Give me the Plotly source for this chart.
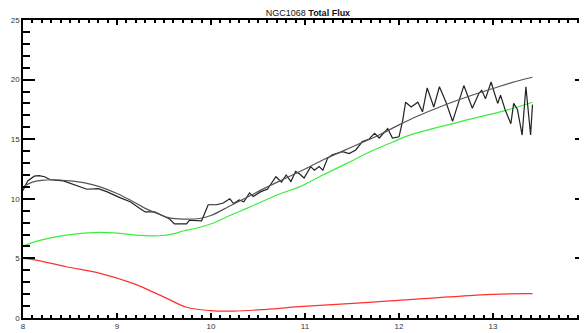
import plotly.graph_objects as go

# Observed (noisy) total flux
obs_x = [8.00, 8.05, 8.12, 8.17, 8.23, 8.29, 8.43, 8.55, 8.68, 8.80, 8.89, 9.03, 9.14, 9.24,
         9.30, 9.40, 9.48, 9.56, 9.61, 9.74, 9.77, 9.90, 9.97, 10.06, 10.13, 10.20, 10.24,
         10.30, 10.35, 10.41, 10.45, 10.53, 10.60, 10.69, 10.75, 10.80, 10.85, 10.90, 10.94,
         10.99, 11.06, 11.10, 11.15, 11.19, 11.24, 11.29, 11.40, 11.47, 11.54, 11.61, 11.68,
         11.74, 11.79, 11.88, 11.93, 12.00, 12.04, 12.07, 12.13, 12.20, 12.25, 12.30, 12.37,
         12.43, 12.50, 12.57, 12.69, 12.78, 12.85, 12.88, 12.92, 12.98, 13.01, 13.05, 13.08,
         13.13, 13.19, 13.22, 13.26, 13.31, 13.35, 13.40, 13.42]
obs_y = [10.7, 11.5, 11.9, 11.95, 11.85, 11.6, 11.5, 11.15, 10.8, 10.85, 10.6, 10.1, 9.75, 9.2,
         8.9, 8.9, 8.6, 8.3, 7.9, 7.9, 8.2, 8.15, 9.5, 9.5, 9.65, 10.0, 9.6,
         9.9, 9.75, 10.5, 10.2, 10.6, 10.8, 11.85, 11.4, 12.0, 11.45, 12.3, 12.1,
         11.75, 12.7, 12.4, 12.7, 12.4, 13.4, 13.7, 13.95, 13.8, 14.1, 14.8, 15.0,
         15.5, 15.1, 15.9, 15.1, 15.2, 16.6, 18.1, 17.7, 18.1, 17.3, 19.3, 17.7,
         19.4, 18.1, 16.5, 19.5, 17.6, 18.85, 19.1, 18.4, 19.8, 19.0, 18.0, 18.7,
         17.45, 16.3, 18.0, 17.5, 15.35, 19.4, 15.35, 17.9]

# Smooth model (total)
fit_x = [8.0, 8.1, 8.2, 8.32, 8.5, 8.68, 8.82, 9.0, 9.14, 9.3, 9.45, 9.56, 9.7, 9.88, 10.0,
         10.2, 10.4, 10.6, 10.8, 11.0, 11.2, 11.4, 11.6, 11.8, 12.0, 12.2, 12.4, 12.6, 12.8,
         13.0, 13.2, 13.42]
fit_y = [11.0, 11.4, 11.55, 11.6, 11.5, 11.3, 11.0, 10.45, 9.9, 9.2, 8.7, 8.4, 8.3, 8.35, 8.6,
         9.4, 10.2, 11.0, 11.75, 12.5, 13.3, 14.0, 14.7, 15.4, 16.2, 16.95, 17.6, 18.2, 18.75,
         19.25, 19.75, 20.2]

# Green component
green_x = [8.0, 8.2, 8.46, 8.82, 9.0, 9.17, 9.45, 9.6, 9.7, 9.85, 10.02, 10.2, 10.41, 10.73,
           10.94, 11.19, 11.44, 11.68, 11.93, 12.1, 12.32, 12.57, 12.71, 13.13, 13.42]
green_y = [6.05, 6.55, 6.96, 7.19, 7.12, 6.98, 6.9, 7.05, 7.3, 7.55, 7.95, 8.6, 9.3, 10.4,
           11.0, 12.0, 12.95, 13.9, 14.75, 15.3, 15.8, 16.3, 16.6, 17.4, 18.1]

# Red component
red_x = [8.0, 8.11, 8.46, 8.82, 9.17, 9.35, 9.53, 9.74, 9.99, 10.24, 10.59, 10.94, 11.79, 12.99, 13.42]
red_y = [5.0, 4.9, 4.3, 3.75, 2.9, 2.3, 1.65, 0.9, 0.62, 0.58, 0.73, 0.95, 1.37, 1.99, 2.04]

x_ticks = [8, 9, 10, 11, 12, 13, 14]
y_ticks = [0, 5, 10, 15, 20, 25]

fig = go.Figure()
fig.add_trace(go.Scatter(x=red_x, y=red_y, mode="lines", line=dict(color="#ff3030", width=1.2, shape="spline")))
fig.add_trace(go.Scatter(x=green_x, y=green_y, mode="lines", line=dict(color="#3cee3c", width=1.2, shape="spline")))
fig.add_trace(go.Scatter(x=obs_x, y=obs_y, mode="lines", line=dict(color="#222222", width=1.2)))
fig.add_trace(go.Scatter(x=fit_x, y=fit_y, mode="lines", line=dict(color="#555555", width=1.2, shape="spline")))

axis_font = dict(family="Liberation Sans, Arial, sans-serif", size=8, color="#333333")
fig.update_layout(
    width=587, height=333,
    margin=dict(l=15, r=8, t=12, b=23),
    paper_bgcolor="white", plot_bgcolor="white",
    showlegend=False,
    title=dict(text="NGC1068 <b>Total Flux</b>", x=0.511, xanchor="center", y=0.985, yanchor="middle",
               font=dict(family="Liberation Sans, Arial, sans-serif", size=9, color="#111111")),
    xaxis=dict(range=[8, 14], tickvals=x_ticks, ticktext=[str(v) for v in x_ticks],
               ticks="inside", ticklen=5, tickwidth=2, tickcolor="black",
               minor=dict(dtick=0.1, ticks="inside", ticklen=3, tickwidth=1.5, tickcolor="black", showgrid=False),
               showline=True, linecolor="black", linewidth=1.5, mirror="ticks",
               showgrid=False, zeroline=False, tickfont=axis_font, automargin=False),
    yaxis=dict(range=[0, 25], tickvals=y_ticks, ticktext=[str(v) for v in y_ticks],
               ticks="inside", ticklen=12, tickwidth=2, tickcolor="black",
               minor=dict(dtick=1, ticks="inside", ticklen=7, tickwidth=2, tickcolor="black", showgrid=False),
               showline=True, linecolor="black", linewidth=1.5, mirror="ticks",
               showgrid=False, zeroline=False, tickfont=axis_font, automargin=False),
)
fig.write_html("out.html")
